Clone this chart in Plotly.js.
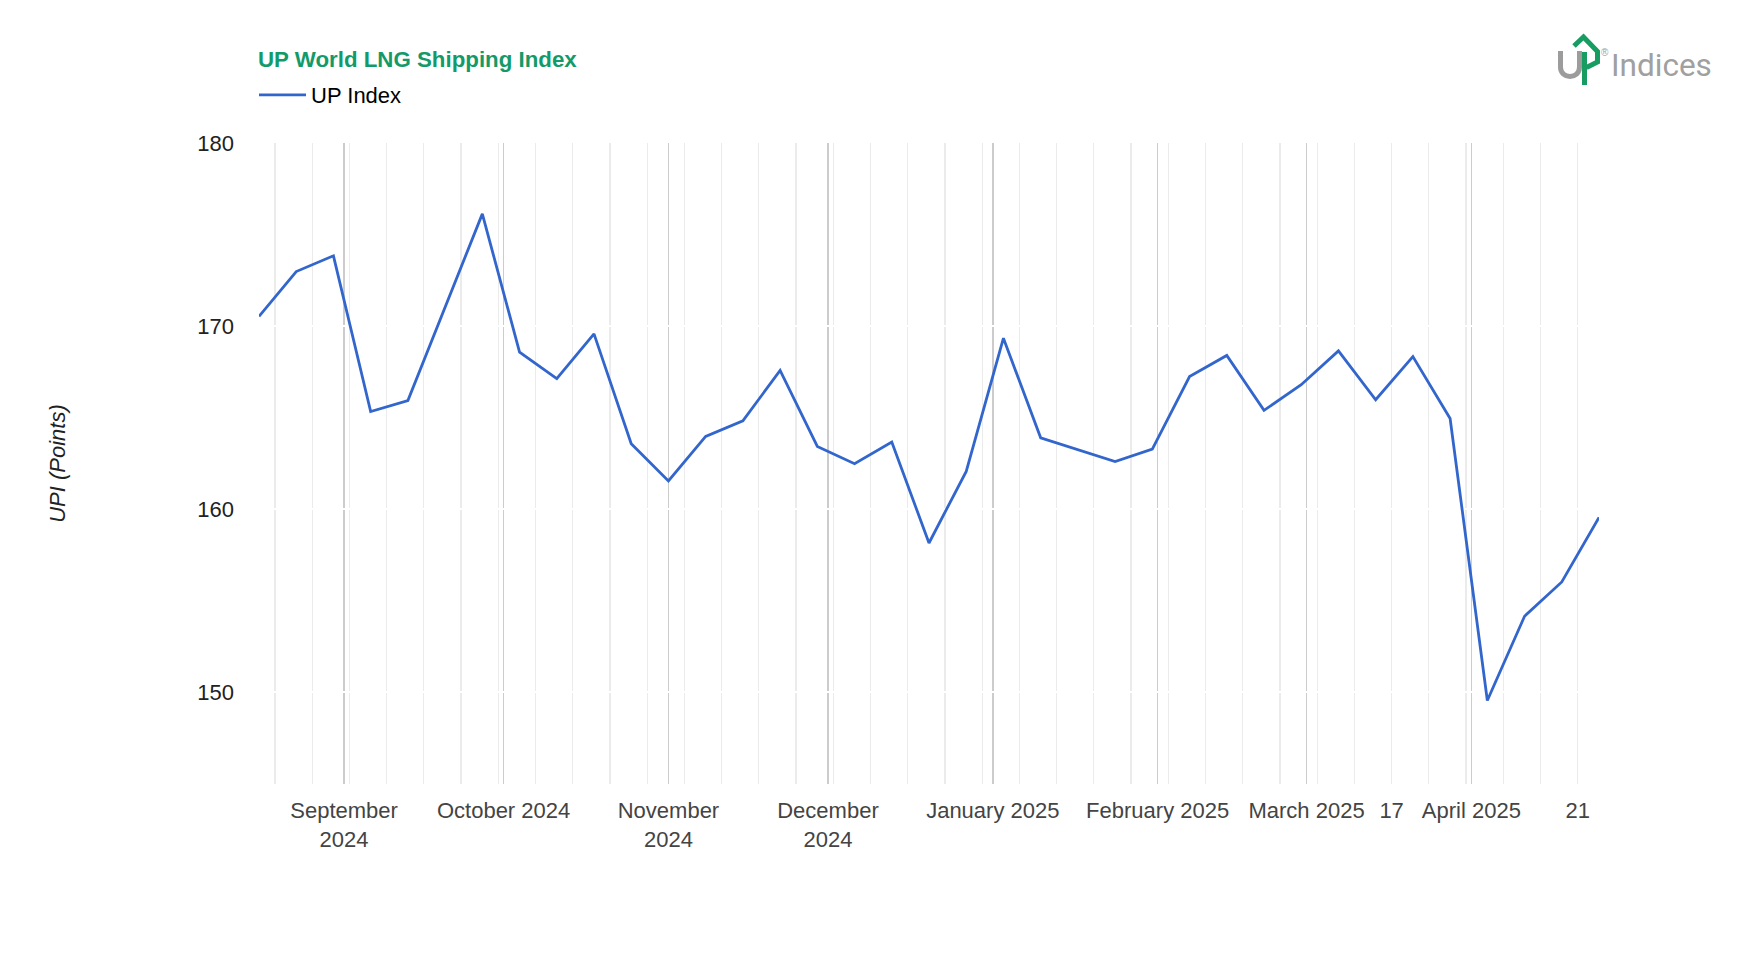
<!DOCTYPE html>
<html>
<head>
<meta charset="utf-8">
<script src="https://cdn.plot.ly/plotly-3.0.1.min.js"></script>
<style>html,body{margin:0;padding:0;background:#fff;}#chart{width:1764px;height:960px;}</style>
</head>
<body>
<div id="chart"></div>
<script>
// ---- data (weekly) ----
const weekDates = [
  '2024-08-16','2024-08-23','2024-08-30','2024-09-06','2024-09-13','2024-09-20','2024-09-27',
  '2024-10-04','2024-10-11','2024-10-18','2024-10-25','2024-11-01','2024-11-08','2024-11-15',
  '2024-11-22','2024-11-29','2024-12-06','2024-12-13','2024-12-20','2024-12-27','2025-01-03',
  '2025-01-10','2025-01-17','2025-01-24','2025-01-31','2025-02-07','2025-02-14','2025-02-21',
  '2025-02-28','2025-03-07','2025-03-14','2025-03-21','2025-03-28','2025-04-04','2025-04-11',
  '2025-04-18','2025-04-25'
];
const upIndex = [
  170.53, 172.98, 173.84, 165.34, 165.94, 171.05, 176.13,
  168.58, 167.13, 169.58, 163.58, 161.55, 163.98, 164.83,
  167.58, 163.43, 162.49, 163.67, 158.16, 162.07, 169.34,
  163.90, 163.25, 162.61, 163.29, 167.25, 168.40, 165.40,
  166.80, 168.65, 165.98, 168.34, 164.96, 149.56, 154.16,
  156.03, 159.56
];
const monthTickVals = ['2024-09-01','2024-10-01','2024-11-01','2024-12-01','2025-01-01','2025-02-01','2025-03-01','2025-04-01'];
const monthTickText = ['September<br>2024','October 2024','November<br>2024','December<br>2024','January 2025','February 2025','March 2025','April 2025'];
const dayTickVals = ['2025-03-17','2025-04-21'];
const dayTickText = ['17','21'];
const yTickVals = [150, 160, 170, 180];
const seriesName = 'UP Index';
const chartTitle = 'UP World LNG Shipping Index';
const yTitle = 'UPI (Points)';

// ---- layout geometry ----
const W = 1764, H = 960;
const L = 259, R = 165, T = 143, B = 176;
const plotW = W - L - R, plotH = H - T - B;
const px = x => (x - L) / plotW;          // pixel -> paper x
const py = y => (H - B - y) / plotH;      // pixel -> paper y

const FONT = 'Arial, "Liberation Sans", sans-serif';
const xRange = [weekDates[0], weekDates[weekDates.length - 1]];

const traces = [
  {
    type: 'scatter', mode: 'lines', name: seriesName,
    x: weekDates, y: upIndex,
    line: {color: '#3366cc', width: 2.8},
    hoverinfo: 'x+y'
  },
  {
    type: 'scatter', mode: 'lines', x: [], y: [], xaxis: 'x2',
    showlegend: false, hoverinfo: 'skip'
  }
];

const logoGreen = '#179c62';
const logoGray = '#9c9c9c';
const ax = px(1558), ay = py(85);

const layout = {
  width: W, height: H,
  margin: {l: L, r: R, t: T, b: B, pad: 0, autoexpand: false},
  paper_bgcolor: '#ffffff', plot_bgcolor: '#ffffff',
  font: {family: FONT, size: 22, color: '#222222'},
  title: {
    text: chartTitle,
    x: 258 / W, xref: 'container', xanchor: 'left',
    y: 1 - 59 / H, yref: 'container', yanchor: 'middle',
    font: {family: FONT, size: 22.3, color: '#139a68', weight: 'bold'}
  },
  showlegend: true,
  legend: {
    x: px(254), xref: 'paper', xanchor: 'left',
    y: py(95), yref: 'paper', yanchor: 'middle',
    font: {family: FONT, size: 22, color: '#000000'},
    itemwidth: 47, bgcolor: 'rgba(0,0,0,0)'
  },
  xaxis: {
    type: 'date', range: xRange, automargin: false,
    tickmode: 'array', tickvals: monthTickVals, ticktext: monthTickText,
    showgrid: true, gridcolor: '#cccccc', gridwidth: 1.5,
    ticks: '', showline: false, zeroline: false,
    tickfont: {family: FONT, size: 22, color: '#444444'},
    ticklabelstandoff: 11,
    minor: {tickmode: 'linear', tick0: '2024-08-19', dtick: 604800000, showgrid: true, gridcolor: '#ebebeb', gridwidth: 1.3, ticks: ''}
  },
  xaxis2: {
    type: 'date', range: xRange, overlaying: 'x', side: 'bottom', automargin: false,
    tickmode: 'array', tickvals: dayTickVals, ticktext: dayTickText,
    showgrid: false, ticks: '', showline: false, zeroline: false,
    tickfont: {family: FONT, size: 22, color: '#444444'},
    ticklabelstandoff: 11
  },
  yaxis: {
    range: [145, 180], tickmode: 'array', tickvals: yTickVals, automargin: false,
    showgrid: true, gridcolor: '#ffffff', gridwidth: 2,
    zeroline: false, showline: false, ticks: '',
    tickfont: {family: FONT, size: 22, color: '#222222'},
    ticklabelstandoff: 24,
    title: {text: yTitle, standoff: 125, font: {family: FONT, size: 22, color: '#222222', style: 'italic'}}
  },
  shapes: [
    { // gray "U"
      type: 'path', xref: 'paper', yref: 'paper',
      xsizemode: 'pixel', ysizemode: 'pixel', xanchor: ax, yanchor: ay,
      path: 'M2.5,34 L2.5,18 C2.5,5.3 21.5,5.3 21.5,18 L21.5,34',
      line: {color: logoGray, width: 5}
    },
    { // green arrow "P"
      type: 'path', xref: 'paper', yref: 'paper',
      xsizemode: 'pixel', ysizemode: 'pixel', xanchor: ax, yanchor: ay,
      path: 'M16,39 L25.5,48 L39.5,33.5 L39.5,23 L28.5,17.5',
      line: {color: logoGreen, width: 5}
    },
    {
      type: 'path', xref: 'paper', yref: 'paper',
      xsizemode: 'pixel', ysizemode: 'pixel', xanchor: ax, yanchor: ay,
      path: 'M26.5,0 L26.5,33',
      line: {color: logoGreen, width: 5}
    }
  ],
  annotations: [
    {
      text: 'Indices', showarrow: false,
      xref: 'paper', yref: 'paper', x: px(1609), y: py(65), xanchor: 'left', yanchor: 'middle',
      font: {family: '"Liberation Sans Narrow", "Roboto", sans-serif', size: 31.5, color: '#a0a0a0'}
    },
    {
      text: '®', showarrow: false,
      xref: 'paper', yref: 'paper', x: px(1605), y: py(52), xanchor: 'center', yanchor: 'middle',
      font: {family: FONT, size: 10, color: '#a0a0a0'}
    }
  ]
};

Plotly.newPlot('chart', traces, layout, {displayModeBar: false, staticPlot: true});
</script>
</body>
</html>
